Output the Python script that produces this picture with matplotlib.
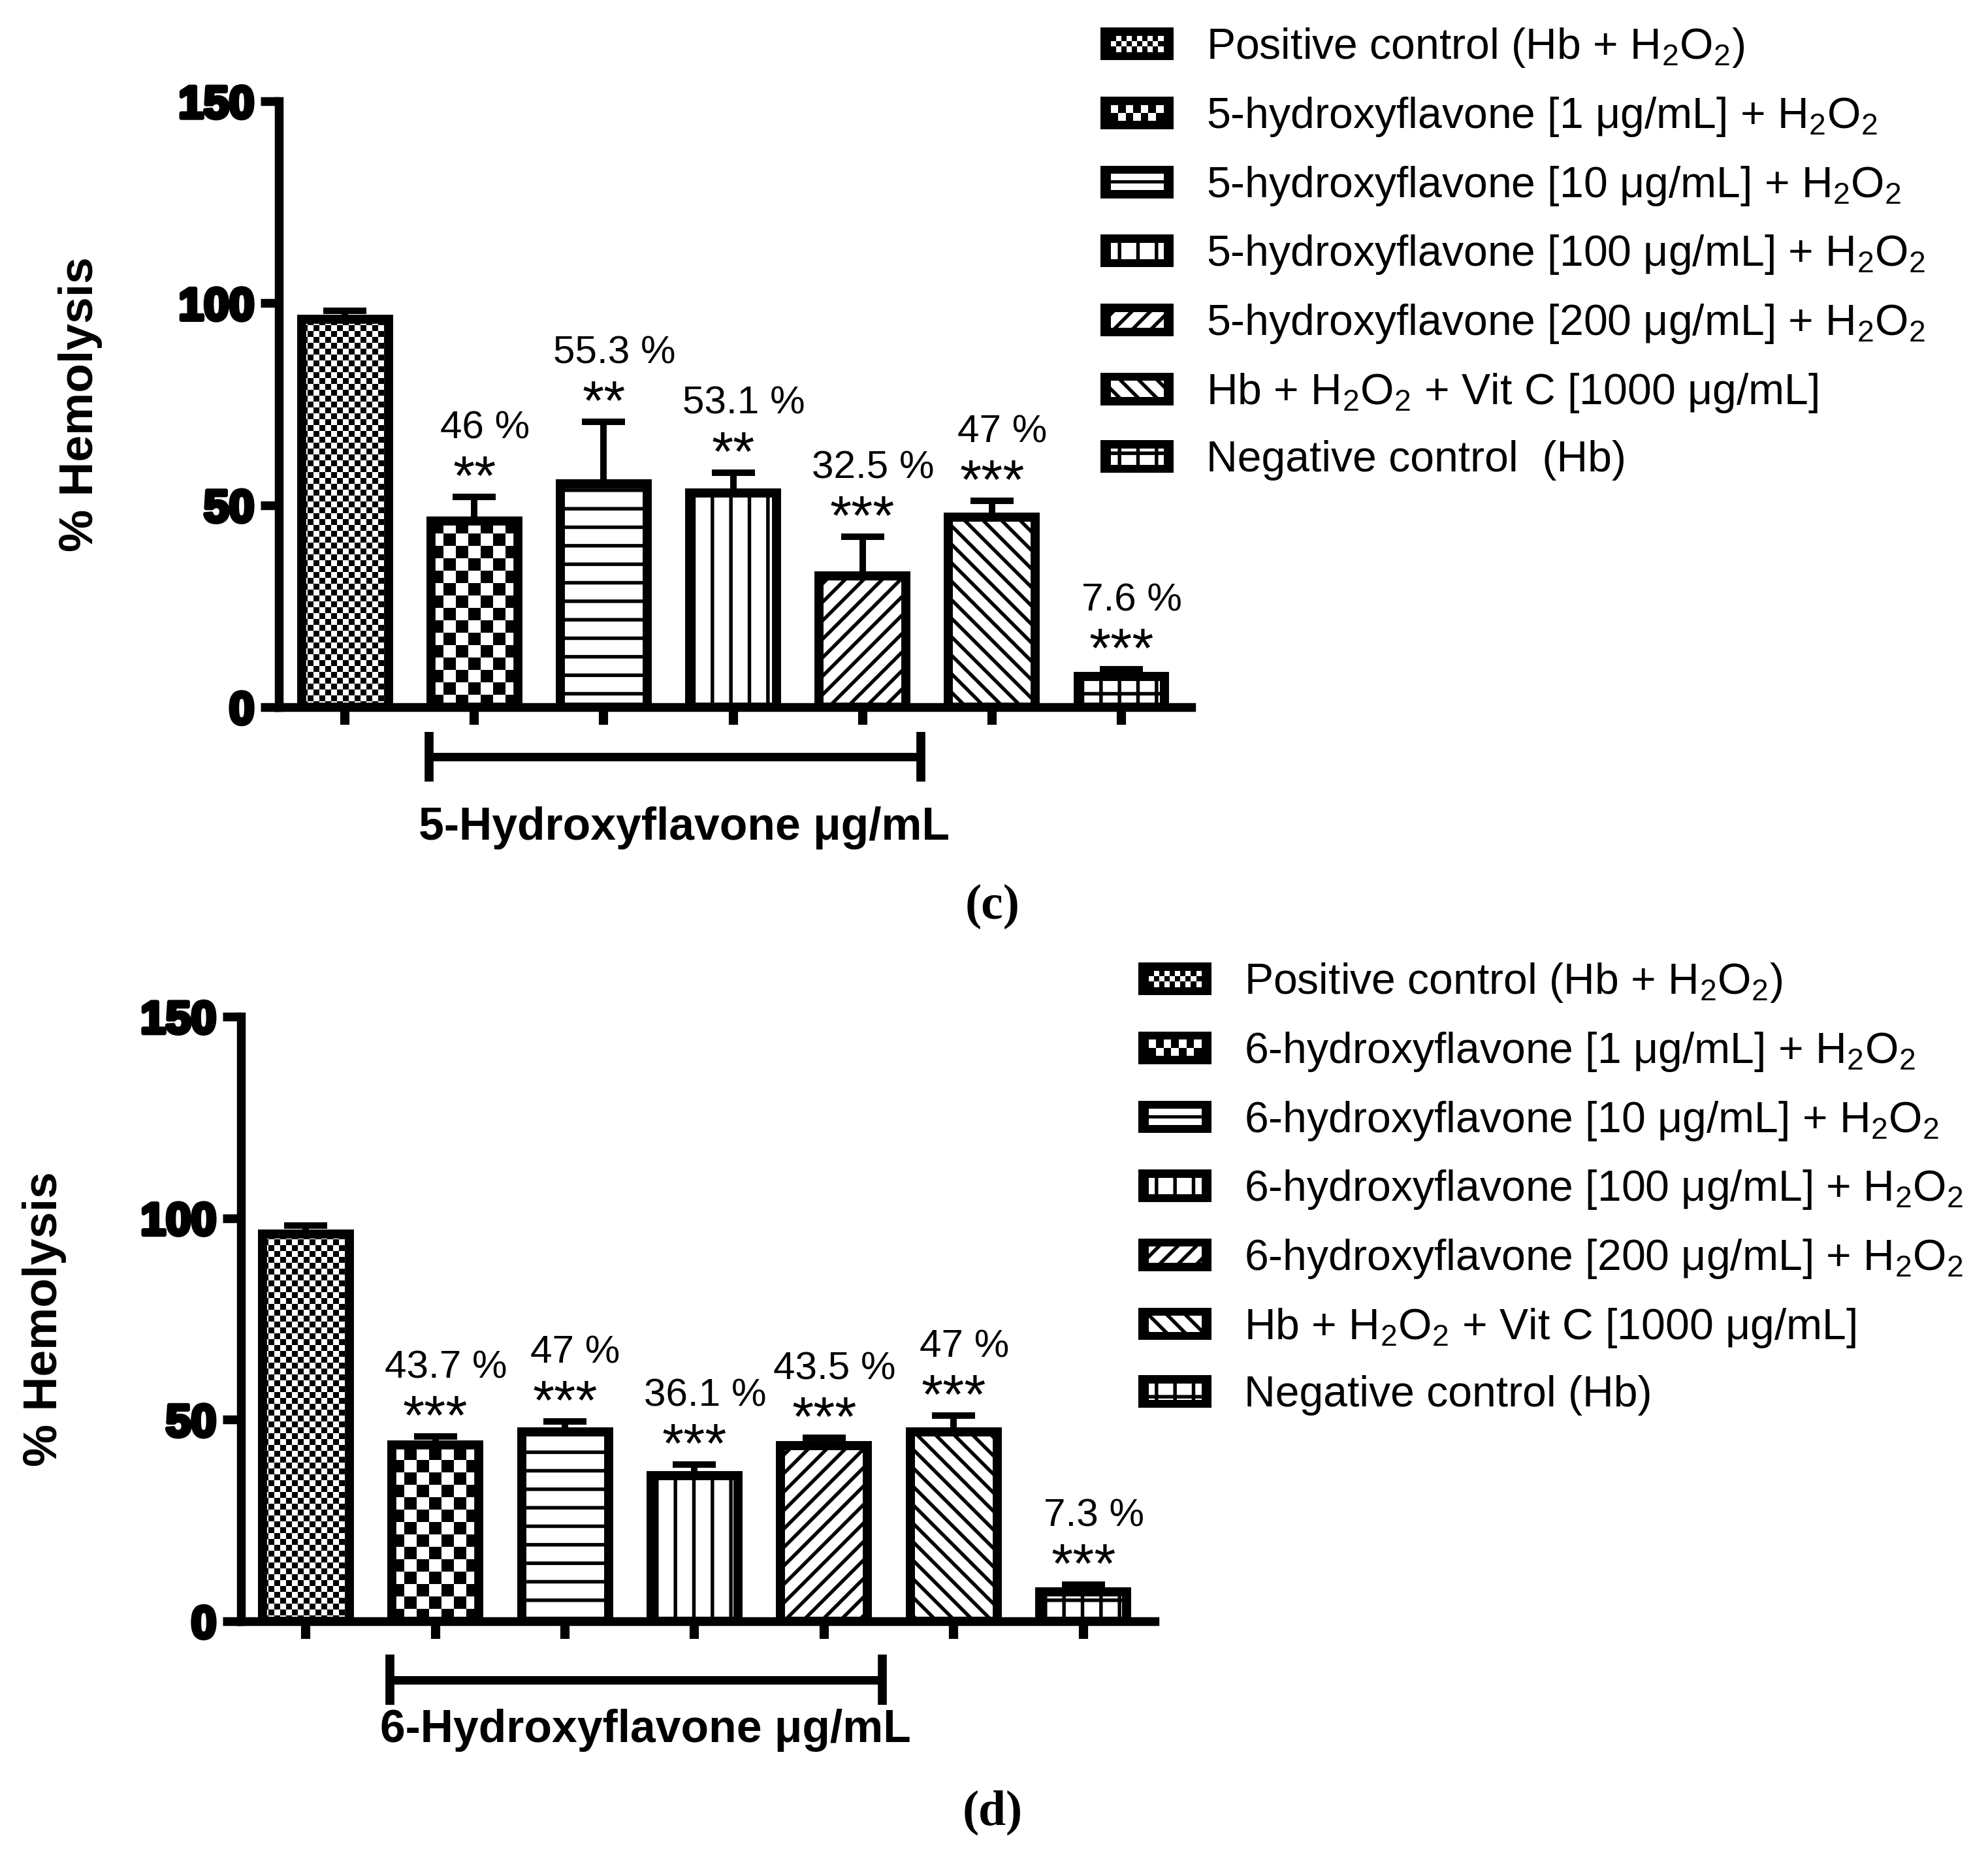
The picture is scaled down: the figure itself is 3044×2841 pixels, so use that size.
import numpy as np
import matplotlib
matplotlib.use('Agg')
import matplotlib.pyplot as plt
import matplotlib.patheffects as pe
from matplotlib.patches import Rectangle
from matplotlib.legend_handler import HandlerBase

# data
groups = ['Positive control', '1', '10', '100', '200', 'Vit C', 'Negative control']
hemolysis_5hf = [96.0, 46.0, 55.3, 53.1, 32.5, 47.0, 7.6]
sem_5hf = [2.2, 6.0, 15.3, 5.0, 9.7, 4.1, 1.8]
pct_5hf = ['', '46 %', '55.3 %', '53.1 %', '32.5 %', '47 %', '7.6 %']
stars_5hf = ['', '**', '**', '**', '***', '***', '***']

hemolysis_6hf = [96.0, 43.7, 47.0, 36.1, 43.5, 47.0, 7.3]
sem_6hf = [2.2, 2.2, 2.5, 2.8, 2.0, 4.0, 1.8]
pct_6hf = ['', '43.7 %', '47 %', '36.1 %', '43.5 %', '47 %', '7.3 %']
stars_6hf = ['', '***', '***', '***', '***', '***', '***']

yticks = [0, 50, 100, 150]
ytick_labels = ['0', '50', '100', '150']

labels_5hf = ['Positive control (Hb + H$_2$O$_2$)',
              '5-hydroxyflavone [1 μg/mL] + H$_2$O$_2$',
              '5-hydroxyflavone [10 μg/mL] + H$_2$O$_2$',
              '5-hydroxyflavone [100 μg/mL] + H$_2$O$_2$',
              '5-hydroxyflavone [200 μg/mL] + H$_2$O$_2$',
              'Hb + H$_2$O$_2$ + Vit C [1000 μg/mL]',
              'Negative control  (Hb)']
labels_6hf = ['Positive control (Hb + H$_2$O$_2$)',
              '6-hydroxyflavone [1 μg/mL] + H$_2$O$_2$',
              '6-hydroxyflavone [10 μg/mL] + H$_2$O$_2$',
              '6-hydroxyflavone [100 μg/mL] + H$_2$O$_2$',
              '6-hydroxyflavone [200 μg/mL] + H$_2$O$_2$',
              'Hb + H$_2$O$_2$ + Vit C [1000 μg/mL]',
              'Negative control (Hb)']

# fill style for each group: checker cell size in px, or a hatch
patterns = ['fine', 'coarse', '-', '|', '//', '\\\\', '+']
checker_px = {'fine': 9, 'coarse': 19}
legend_rows = {'fine': 3, 'coarse': 2}

DPI = 170
plt.rcParams['font.family'] = 'Liberation Sans'
plt.rcParams['mathtext.fontset'] = 'custom'
plt.rcParams['mathtext.rm'] = 'Liberation Sans'
plt.rcParams['mathtext.it'] = 'Liberation Sans:italic'
plt.rcParams['mathtext.bf'] = 'Liberation Sans:bold'
plt.rcParams['hatch.linewidth'] = 2.3

LW = 5.8


class PatternHandler(HandlerBase):
    def create_artists(self, legend, orig_handle, xdescent, ydescent,
                       width, height, fontsize, trans):
        x0, y0 = -xdescent, -ydescent
        bx, by = 0.14 * width, 0.25 * height
        arts = [Rectangle((x0, y0), width, height, facecolor='black',
                          edgecolor='none', transform=trans)]
        ix, iy, iw, ih = x0 + bx, y0 + by, width - 2 * bx, height - 2 * by
        kind = orig_handle.get_gid()
        hatch = None if (kind in checker_px or kind == '-') else kind
        arts.append(Rectangle((ix, iy), iw, ih, facecolor='white', edgecolor='black',
                              linewidth=0, hatch=hatch, transform=trans))
        if kind == '-':
            arts.append(Rectangle((ix, iy + 0.4 * ih), iw, 0.2 * ih, facecolor='black',
                                  edgecolor='none', transform=trans))
        if kind in checker_px:
            rows = legend_rows[kind]
            cell = ih / rows
            cols = int(round(iw / cell))
            cw = iw / cols
            for r in range(rows):
                for c in range(cols):
                    if (r + c) % 2 == 0:
                        arts.append(Rectangle((ix + c * cw, iy + r * cell), cw, cell,
                                              facecolor='black', edgecolor='none',
                                              transform=trans))
        return arts


def draw_panel(ax, values, sem, pct, stars, xlim, bracket_y, label_y, xlabel):
    x = np.arange(len(values))
    ax.set_xlim(*xlim)
    ax.set_ylim(0, 150)
    width = 0.67

    ax.errorbar(x, values, yerr=[np.zeros(len(sem)), sem], fmt='none', ecolor='black',
                elinewidth=4.2, capsize=14, capthick=4.2, zorder=0.5)
    bars = ax.bar(x, values, width=width, color='white', edgecolor='black',
                  linewidth=LW, zorder=1)
    for b, p in zip(bars, patterns):
        if p not in checker_px:
            b.set_hatch(p)

    # checkerboard fills, clipped to their bars
    px_x = ax.bbox.width / (xlim[1] - xlim[0])
    px_y = ax.bbox.height / 150.0
    for b, p in zip(bars, patterns):
        if p in checker_px:
            dx = checker_px[p] / px_x
            dy = checker_px[p] / px_y
            x0 = b.get_x()
            nx = int(np.ceil(b.get_width() / dx))
            ny = int(np.ceil(b.get_height() / dy))
            board = np.add.outer(np.arange(ny), np.arange(nx)) % 2
            im = ax.imshow(board, cmap='gray', vmin=0, vmax=1, origin='lower',
                           extent=(x0, x0 + nx * dx, 0, ny * dy), aspect='auto',
                           interpolation='nearest', zorder=1.5)
            im.set_clip_path(b)
    ax.bar(x, values, width=width, fill=False, edgecolor='black', linewidth=LW, zorder=2)
    ax.set_xlim(*xlim)
    ax.set_ylim(0, 150)

    tops = np.array(values) + np.array(sem)
    for xi, t, s, p in zip(x, tops, stars, pct):
        if s:
            ax.text(xi, t + 0.5, s, ha='center', va='baseline', fontsize=36, zorder=3)
            ax.text(xi + 0.08, t + 17.0, p, ha='center', va='center', fontsize=25.5, zorder=3)

    # bracket under the flavone groups
    ax.plot([0.65, 4.45], [bracket_y, bracket_y], color='black', lw=5.5,
            clip_on=False, solid_capstyle='butt')
    for xb in (0.65, 4.45):
        ax.plot([xb, xb], [bracket_y - 6.2, bracket_y + 6.2], color='black', lw=5.8,
                clip_on=False, solid_capstyle='butt')
    ax.text(2.62, label_y, xlabel, ha='center', va='center', fontsize=29.5,
            fontweight='bold')

    for side in ('top', 'right'):
        ax.spines[side].set_visible(False)
    for side in ('left', 'bottom'):
        ax.spines[side].set_linewidth(5.7)
        ax.spines[side].set_capstyle('projecting')
    ax.set_yticks(yticks)
    ax.set_yticklabels(ytick_labels, fontweight='bold', fontsize=29.5,
                       path_effects=[pe.withStroke(linewidth=2.6, foreground='black')])
    ax.set_xticks(x)
    ax.tick_params(axis='y', length=11.7, width=5.7, pad=4.2)
    ax.tick_params(axis='x', length=11.4, width=6, labelbottom=False)
    ax.set_ylabel('% Hemolysis', fontsize=31, fontweight='bold', va='center')
    ax.yaxis.set_label_coords(-0.218, 0.5)


fig = plt.figure(figsize=(3044 / DPI, 2841 / DPI), dpi=DPI)

ax1 = fig.add_axes([0.1403, 0.6188, 0.4589, 0.3266])
draw_panel(ax1, hemolysis_5hf, sem_5hf, pct_5hf, stars_5hf, (-0.51, 6.54),
           -12.3, -29.9, '5-Hydroxyflavone μg/mL')

ax2 = fig.add_axes([0.1212, 0.126, 0.4596, 0.326])
draw_panel(ax2, hemolysis_6hf, sem_6hf, pct_6hf, stars_6hf, (-0.50, 6.55),
           -14.5, -27.0, '6-Hydroxyflavone μg/mL')
ax2.yaxis.set_label_coords(-0.2153, 0.5)

handles = [Rectangle((0, 0), 1, 1, gid=p) for p in patterns]
leg_kw = dict(loc='upper left', frameon=False, fontsize=28, handlelength=1.7,
              handleheight=0.78, handletextpad=0.75, labelspacing=0.6,
              borderpad=0, borderaxespad=0,
              handler_map={Rectangle: PatternHandler()})
fig.legend(handles, labels_5hf, bbox_to_anchor=(0.5535, 0.9858), **leg_kw)
fig.legend(handles, labels_6hf, bbox_to_anchor=(0.5726, 0.4818), **leg_kw)

fig.text(0.4993, 0.5114, '(c)', ha='center', va='center', fontsize=32,
         fontweight='bold', family='Liberation Serif')
fig.text(0.4993, 0.0229, '(d)', ha='center', va='center', fontsize=32,
         fontweight='bold', family='Liberation Serif')

fig.savefig('out.png', dpi=DPI, facecolor='white')
